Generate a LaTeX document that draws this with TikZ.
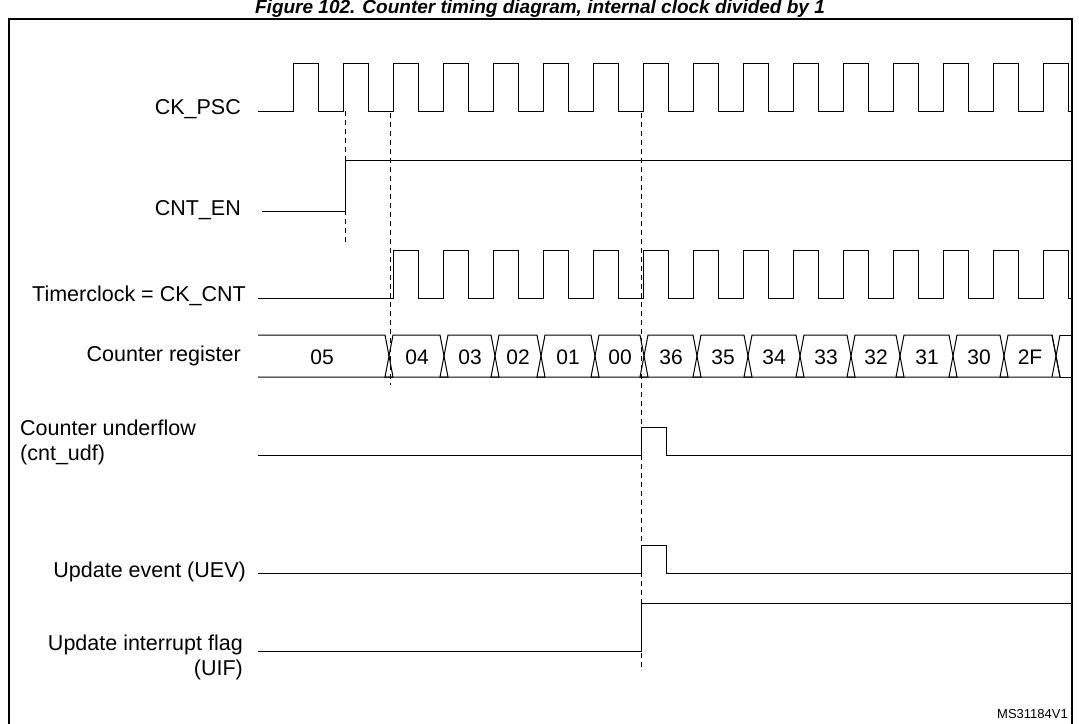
\documentclass[tikz,border=0pt]{standalone}
\usepackage{fontspec}
\setmainfont{Liberation Sans}
\begin{document}
\begin{tikzpicture}[x=1pt,y=-1pt,
  sig/.style={line width=1pt},
  dsh/.style={line width=0.9pt,dash pattern=on 5pt off 4pt},
  lbl/.style={anchor=east,font=\fontsize{21.5}{25}\selectfont,inner sep=0},
  val/.style={font=\fontsize{21}{25}\selectfont,inner sep=0}]
\useasboundingbox (0,0) rectangle (1079,723);
\node[font=\fontsize{19}{22}\selectfont\bfseries\itshape,inner sep=0] (title) at (540,9) {Figure 102. Counter timing diagram, internal clock divided by 1};
\begin{scope}
\clip (0,0) rectangle (1079,723);
\draw[line width=1.2pt] (9,19) rectangle (1072,740);
\end{scope}
\node[font=\fontsize{13}{15}\selectfont,anchor=east,inner sep=0] (ms) at (1068,714) {MS31184V1};
% labels
\node[lbl] (l1) at (241,109) {CK\_PSC};
\node[lbl] (l2) at (241,210) {CNT\_EN};
\node[lbl] (l3) at (246,296) {Timerclock = CK\_CNT};
\node[lbl] (l4) at (241,356) {Counter register};
\node[lbl,anchor=west,align=left] (l5) at (20,442) {Counter underflow\\(cnt\_udf)};
\node[lbl] (l6) at (246,572) {Update event (UEV)};
\node[lbl,align=right] (l7) at (243,657) {Update interrupt flag\\(UIF)};
% CK_PSC
\draw[sig] (258,111) \foreach \k in {0,...,15}{ -- ({293+50*\k},111) -- ({293+50*\k},63) -- ({318+50*\k},63) -- ({318+50*\k},111)} -- (1072,111);
% CNT_EN
\draw[sig] (262,211) -- (345,211) -- (345,160) -- (1072,160);
% Timerclock
\draw[sig] (258,298) \foreach \k in {2,...,15}{ -- ({293+50*\k},298) -- ({293+50*\k},250) -- ({318+50*\k},250) -- ({318+50*\k},298)} -- (1072,298);
% Counter register bus
\def\ya{335}\def\yb{377}
\draw[sig] (258,\ya) -- (385,\ya) -- (393,\yb) -- (258,\yb);
\foreach \a/\b in {389/444,444/495,495/541,541/595,595/644,644/697,697/748,748/800,800/851,851/900,900/953,953/1004,1004/1056}{
  \draw[sig] ({\a-4},\yb) -- ({\a+4},\ya) -- ({\b-4},\ya) -- ({\b+4},\yb) -- cycle;}
\draw[sig] (1052,\ya) -- (1060,\yb) (1060,\ya) -- (1052,\yb);
\draw[sig] (1060,\ya) -- (1072,\ya) (1060,\yb) -- (1072,\yb);
\foreach \x/\t in {322/05,417/04,470/03,518/02,568/01,620/00,671/36,723/35,774/34,826/33,876/32,927/31,979/30,1030/2F}
  \node[val] at (\x,357) {\t};
% Counter underflow
\draw[sig] (258,455) -- (641,455) -- (641,427) -- (666,427) -- (666,455) -- (1072,455);
% UEV
\draw[sig] (258,573) -- (641,573) -- (641,545) -- (666,545) -- (666,573) -- (1072,573);
% UIF
\draw[sig] (258,651) -- (641,651) -- (641,603) -- (1072,603);
% dashed
\draw[dsh] (345,111) -- (345,245);
\draw[dsh] (390,113) -- (390,385);
\draw[dsh] (641,113) -- (641,668);
\end{tikzpicture}
\end{document}
